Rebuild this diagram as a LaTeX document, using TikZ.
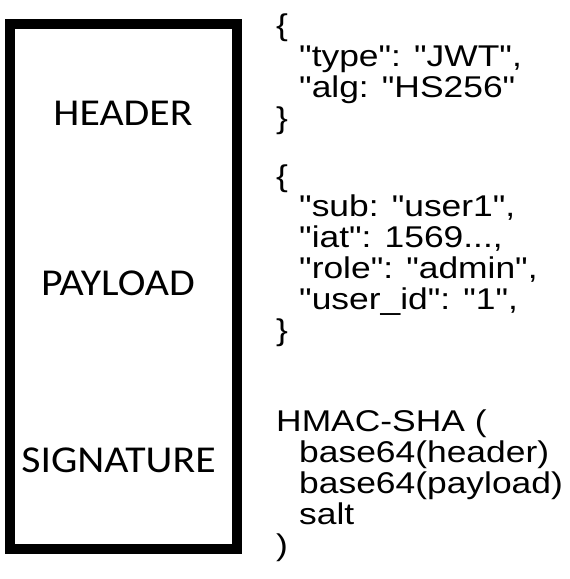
\documentclass[tikz,border=0pt]{standalone}
\usepackage{fontspec}
\newfontfamily\partfont[FakeStretch=1.1]{Carlito}
\newfontfamily\codefont[FakeStretch=1.18]{Liberation Sans}
\tikzset{part/.style = {font = \partfont\fontsize{38}{40}\selectfont, anchor = base, inner sep = 0pt}}
\tikzset{code/.style = {font = \codefont\fontsize{30}{30.8}\selectfont, align = left, anchor = base west, inner sep = 0pt}}
\tikzset{frame/.style = {draw, line width = 10pt}}
\newcommand{\ind}{\hspace*{23pt}}

\begin{document}
\begin{tikzpicture}[x = 1pt, y = -1pt]
			\useasboundingbox (0, 0) rectangle (570, 579);
			\draw[frame] (9.5, 23.5) rectangle (236.5, 549);

			\node[part] (header) at (123, 125) {HEADER};
			\node[part] (payload) at (118, 295) {PAYLOAD};
			\node[part] (signature) at (118.5, 472) {SIGNATURE};

			% anchored at the baseline of the last line
			\node[code] (headerjson) at (276, 128) {\{\\ \ind"type": "JWT",\\ \ind"alg: "HS256"\\ \}};
			\node[code] (payloadjson) at (276, 340) {\{\\ \ind"sub: "user1",\\ \ind"iat": 1569...,\\ \ind"role": "admin",\\ \ind"user\_id": "1",\\ \}};
			\node[code] (signaturecalc) at (276, 555) {HMAC-SHA (\\ \ind base64(header)\\ \ind base64(payload)\\ \ind salt\\ )};
		\end{tikzpicture}
\end{document}
